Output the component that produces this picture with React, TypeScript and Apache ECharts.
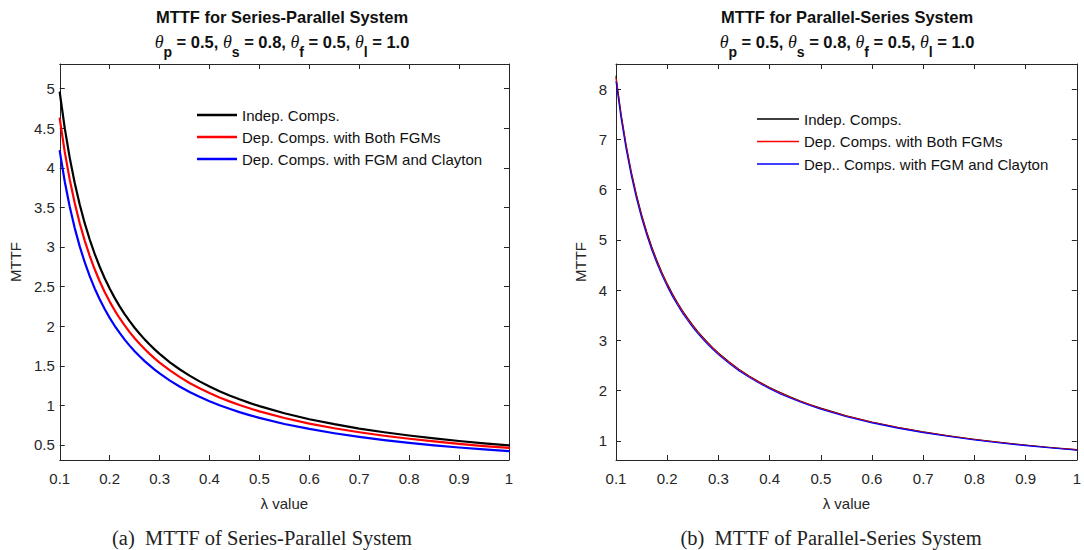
import React, { useEffect, useRef } from "react";
import * as echarts from "echarts";

// ---------- data ----------
const lambdaValues = [0.1, 0.11, 0.12, 0.13, 0.14, 0.15, 0.16, 0.17, 0.18, 0.19, 0.2, 0.21, 0.22, 0.23, 0.24, 0.25, 0.26, 0.27, 0.28, 0.29, 0.3, 0.32, 0.34, 0.36, 0.38, 0.4, 0.42, 0.44, 0.46, 0.48, 0.5, 0.55, 0.6, 0.65, 0.7, 0.75, 0.8, 0.85, 0.9, 0.95, 1.0];

// (a) Series-Parallel system
const spIndep = [4.95, 4.5, 4.125, 3.808, 3.536, 3.3, 3.094, 2.912, 2.75, 2.605, 2.475, 2.357, 2.25, 2.152, 2.063, 1.98, 1.904, 1.833, 1.768, 1.707, 1.65, 1.547, 1.456, 1.375, 1.303, 1.238, 1.179, 1.125, 1.076, 1.031, 0.99, 0.9, 0.825, 0.762, 0.707, 0.66, 0.619, 0.582, 0.55, 0.521, 0.495];
const spDepBothFGM = [4.62, 4.2, 3.85, 3.554, 3.3, 3.08, 2.888, 2.718, 2.567, 2.432, 2.31, 2.2, 2.1, 2.009, 1.925, 1.848, 1.777, 1.711, 1.65, 1.593, 1.54, 1.444, 1.359, 1.283, 1.216, 1.155, 1.1, 1.05, 1.004, 0.963, 0.924, 0.84, 0.77, 0.711, 0.66, 0.616, 0.578, 0.544, 0.513, 0.486, 0.462];
const spDepFGMClayton = [4.21, 3.827, 3.508, 3.238, 3.007, 2.807, 2.631, 2.476, 2.339, 2.216, 2.105, 2.005, 1.914, 1.83, 1.754, 1.684, 1.619, 1.559, 1.504, 1.452, 1.403, 1.316, 1.238, 1.169, 1.108, 1.053, 1.002, 0.957, 0.915, 0.877, 0.842, 0.765, 0.702, 0.648, 0.601, 0.561, 0.526, 0.495, 0.468, 0.443, 0.421];

// (b) Parallel-Series system
const psIndep = [8.26, 7.509, 6.883, 6.354, 5.9, 5.507, 5.163, 4.859, 4.589, 4.347, 4.13, 3.933, 3.755, 3.591, 3.442, 3.304, 3.177, 3.059, 2.95, 2.848, 2.753, 2.581, 2.429, 2.294, 2.174, 2.065, 1.967, 1.877, 1.796, 1.721, 1.652, 1.502, 1.377, 1.271, 1.18, 1.101, 1.033, 0.972, 0.918, 0.869, 0.826];
const psDepBothFGM = [8.22, 7.473, 6.85, 6.323, 5.871, 5.48, 5.138, 4.835, 4.567, 4.326, 4.11, 3.914, 3.736, 3.574, 3.425, 3.288, 3.162, 3.044, 2.936, 2.834, 2.74, 2.569, 2.418, 2.283, 2.163, 2.055, 1.957, 1.868, 1.787, 1.713, 1.644, 1.495, 1.37, 1.265, 1.174, 1.096, 1.028, 0.967, 0.913, 0.865, 0.822];
const psDepFGMClayton = [8.15, 7.409, 6.792, 6.269, 5.821, 5.433, 5.094, 4.794, 4.528, 4.289, 4.075, 3.881, 3.705, 3.543, 3.396, 3.26, 3.135, 3.019, 2.911, 2.81, 2.717, 2.547, 2.397, 2.264, 2.145, 2.038, 1.94, 1.852, 1.772, 1.698, 1.63, 1.482, 1.358, 1.254, 1.164, 1.087, 1.019, 0.959, 0.906, 0.858, 0.815];

const namesA = ["Indep. Comps.", "Dep. Comps. with Both FGMs", "Dep. Comps. with FGM and Clayton"];
const namesB = ["Indep. Comps.", "Dep. Comps. with Both FGMs", "Dep.. Comps. with FGM and Clayton"];
const titlesMain = ["MTTF for Series-Parallel System", "MTTF for Parallel-Series System"];
const captions = ["(a)  MTTF of Series-Parallel System", "(b)  MTTF of Parallel-Series System"];
const paramLine = "{t|θ}{s|p}{n| = 0.5, }{t|θ}{s|s}{n| = 0.8, }{t|θ}{s|f}{n| = 0.5, }{t|θ}{s|l}{n| = 1.0}";
const xRange = [0.1, 1.0];
const xStep = 0.1;
const yRangeA = [0.31, 5.31];
const yStepA = 0.5;
const yRangeB = [0.62, 8.5];
const yStepB = 1;
const colors = ["#000000", "#ff0000", "#0000ff"];

const SANS = "Liberation Sans";
const TXT = "#262626";

type Cfg = {
  grid: { left: number; top: number; width: number; height: number };
  yRange: number[];
  yStep: number;
  series: number[][];
  names: string[];
  lineWidth: number;
  legendIconH: number;
  legend: { left: number; top: number; itemWidth: number; itemGap: number };
  titleX: number;
  captionX: number;
  title: string;
  caption: string;
  yLabelMargin: number;
  yNameGap: number;
};

function makeOption(c: Cfg): any {
  const axisLine = { show: true, onZero: false, lineStyle: { color: TXT, width: 1 } };
  const axisTick = { show: true, inside: true, length: 5, lineStyle: { color: TXT, width: 1 } };
  const fmt = (v: number) => String(parseFloat(v.toFixed(2)));
  return {
    animation: false,
    backgroundColor: "#ffffff",
    grid: { ...c.grid, containLabel: false },
    xAxis: [
      {
        type: "value",
        min: xRange[0],
        max: xRange[1],
        interval: xStep,
        position: "bottom",
        axisLine,
        axisTick,
        splitLine: { show: false },
        axisLabel: { margin: 11, fontSize: 15, color: TXT, fontFamily: SANS, formatter: fmt, showMinLabel: true, showMaxLabel: true },
        name: "λ value",
        nameLocation: "middle",
        nameGap: 36,
        nameTextStyle: { fontSize: 15, color: TXT, fontFamily: SANS },
      },
      {
        type: "value",
        min: xRange[0],
        max: xRange[1],
        interval: xStep,
        position: "top",
        axisLine,
        axisTick,
        splitLine: { show: false },
        axisLabel: { show: false },
      },
    ],
    yAxis: [
      {
        type: "value",
        min: c.yRange[0],
        max: c.yRange[1],
        minInterval: c.yStep,
        maxInterval: c.yStep,
        splitNumber: 10,
        position: "left",
        axisLine,
        axisTick,
        splitLine: { show: false },
        axisLabel: { margin: c.yLabelMargin, fontSize: 15, color: TXT, fontFamily: SANS, formatter: fmt, showMinLabel: false, showMaxLabel: false },
        name: "MTTF",
        nameLocation: "middle",
        nameGap: c.yNameGap,
        nameTextStyle: { fontSize: 15, color: TXT, fontFamily: SANS },
      },
      {
        type: "value",
        min: c.yRange[0],
        max: c.yRange[1],
        minInterval: c.yStep,
        maxInterval: c.yStep,
        splitNumber: 10,
        position: "right",
        axisLine,
        axisTick,
        splitLine: { show: false },
        axisLabel: { show: false },
      },
    ],
    legend: {
      orient: "vertical",
      left: c.legend.left,
      top: c.legend.top,
      itemWidth: c.legend.itemWidth,
      itemHeight: c.legendIconH,
      itemGap: c.legend.itemGap,
      icon: "rect",
      padding: 0,
      data: c.names,
      textStyle: { fontSize: 15, color: "#111", fontFamily: SANS, lineHeight: 16 },
      selectedMode: false,
    },
    series: c.series.map((arr, i) => ({
      name: c.names[i],
      type: "line",
      xAxisIndex: 0,
      yAxisIndex: 0,
      symbol: "none",
      smooth: false,
      lineStyle: { color: colors[i], width: c.lineWidth, join: "round", cap: "round" },
      itemStyle: { color: colors[i] },
      data: lambdaValues.map((x, j) => [x, arr[j]]),
    })),
    graphic: [
      {
        type: "text",
        x: c.titleX,
        y: 17,
        style: { text: c.title, fontFamily: SANS, fontWeight: "bold", fontSize: 16.5, fill: "#111", textAlign: "center", textVerticalAlign: "middle" },
      },
      {
        type: "text",
        x: c.titleX,
        y: 42,
        style: {
          text: paramLine,
          fill: "#111",
          textAlign: "center",
          textVerticalAlign: "middle",
          rich: {
            t: { fontFamily: "Liberation Serif", fontStyle: "italic", fontSize: 18, lineHeight: 18, fill: "#111" },
            n: { fontFamily: SANS, fontWeight: "bold", fontSize: 16.5, lineHeight: 18, fill: "#111" },
            s: { fontFamily: SANS, fontWeight: "bold", fontSize: 14, lineHeight: 18, padding: [20, 0, 0, 0], fill: "#111" },
          },
        },
      },
      {
        type: "text",
        x: c.captionX,
        y: 538,
        style: { text: c.caption, fontFamily: "Liberation Serif", fontSize: 20.5, lineHeight: 20, fill: "#222", textAlign: "center", textVerticalAlign: "middle" },
      },
    ],
  };
}

function ChartBox(props: { cfg: Cfg; left: number }) {
  const ref = useRef<HTMLDivElement>(null);
  useEffect(() => {
    if (!ref.current) return;
    const chart = echarts.init(ref.current, null, { renderer: "svg" });
    chart.setOption(makeOption(props.cfg));
    return () => chart.dispose();
  }, []);
  return <div ref={ref} style={{ position: "absolute", left: props.left, top: 0, width: 542, height: 550 }} />;
}

export default function App() {
  const cfgA: Cfg = {
    grid: { left: 55, top: 64, width: 454, height: 396 },
    yRange: yRangeA,
    yStep: yStepA,
    series: [spIndep, spDepBothFGM, spDepFGMClayton],
    names: namesA,
    lineWidth: 2.2,
    legendIconH: 2.5,
    legend: { left: 197, top: 107, itemWidth: 40, itemGap: 6 },
    titleX: 282,
    captionX: 262,
    title: titlesMain[0],
    caption: captions[0],
    yLabelMargin: 5,
    yNameGap: 30,
  };
  const cfgB: Cfg = {
    grid: { left: 74, top: 64, width: 462, height: 396 },
    yRange: yRangeB,
    yStep: yStepB,
    series: [psIndep, psDepBothFGM, psDepFGMClayton],
    names: namesB,
    lineWidth: 1.1,
    legendIconH: 1.5,
    legend: { left: 215, top: 111, itemWidth: 42, itemGap: 6.5 },
    titleX: 305,
    captionX: 289,
    title: titlesMain[1],
    caption: captions[1],
    yLabelMargin: 9,
    yNameGap: 13,
  };
  return (
    <div style={{ position: "fixed", left: 0, top: 0, width: 1084, height: 550, background: "#fff" }}>
      <ChartBox cfg={cfgA} left={0} />
      <ChartBox cfg={cfgB} left={542} />
    </div>
  );
}
